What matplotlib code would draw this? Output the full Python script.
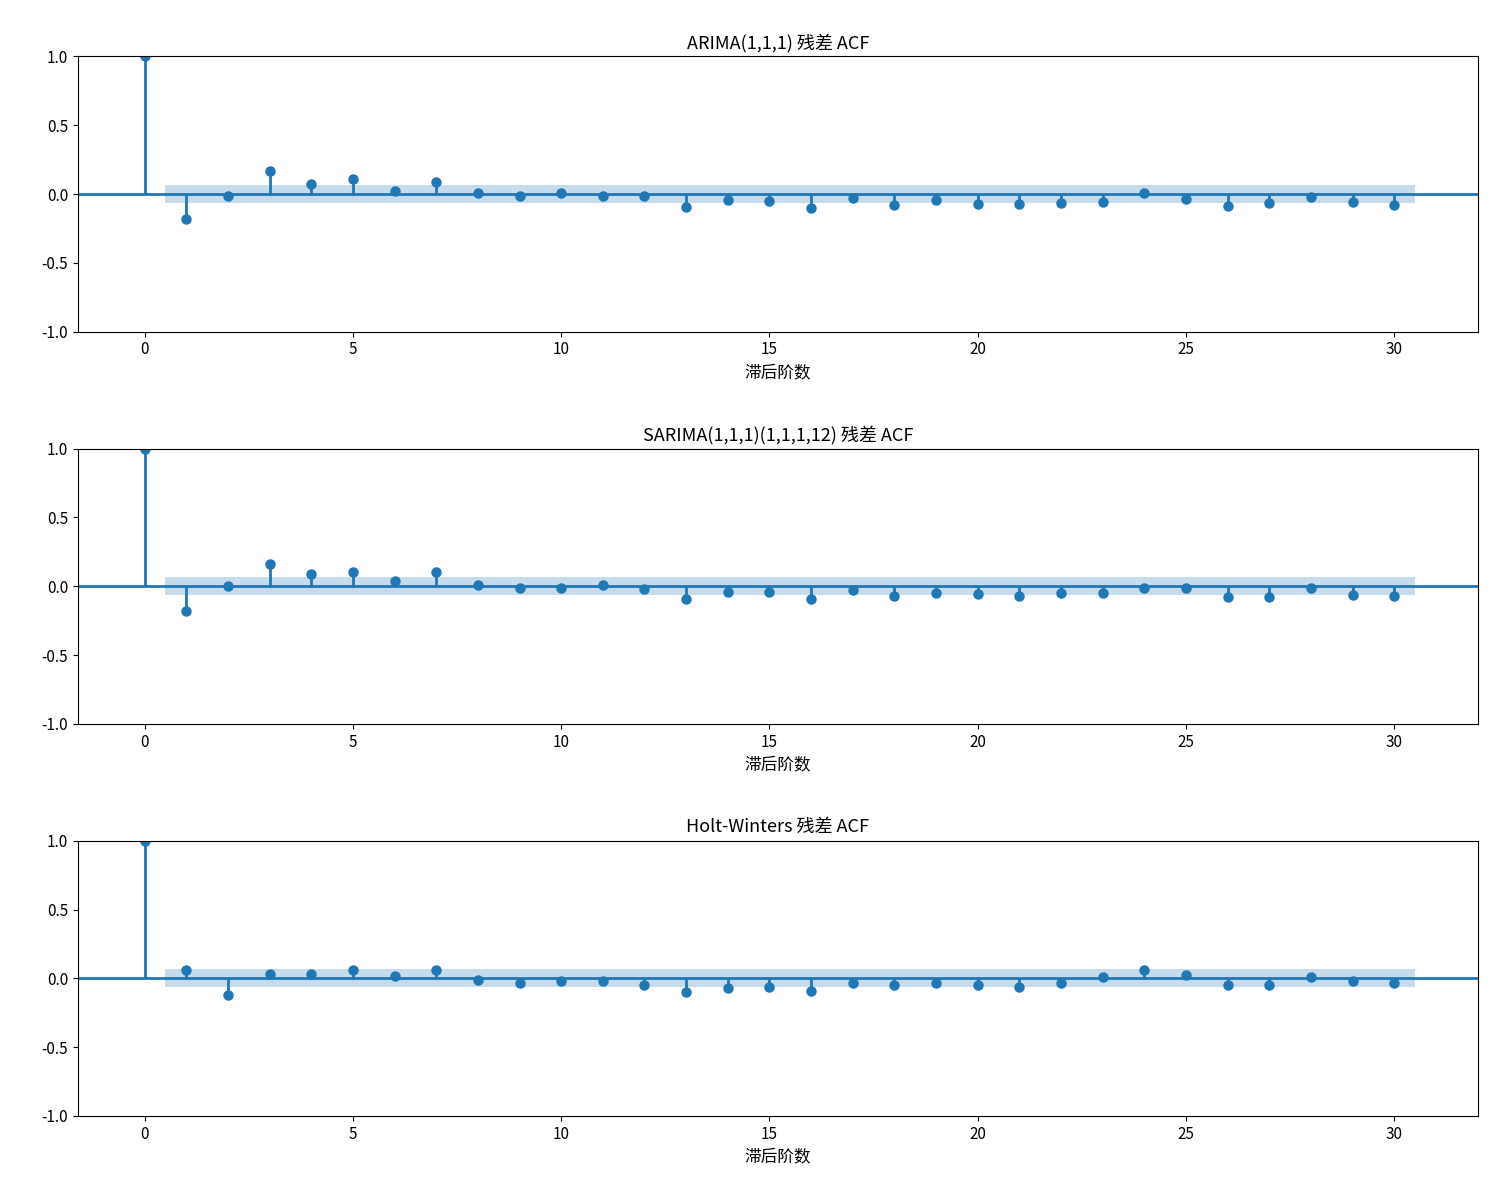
import numpy as np
import matplotlib
matplotlib.use('Agg')
import matplotlib.pyplot as plt

plt.rcParams['font.family'] = ['Noto Sans CJK SC', 'DejaVu Sans']
plt.rcParams['axes.unicode_minus'] = False

lags = np.arange(31)
acf_arima = [1.0, -0.18, -0.015, 0.17, 0.07, 0.11, 0.02, 0.09, 0.01, -0.015, 0.01,
             -0.015, -0.015, -0.095, -0.045, -0.05, -0.10, -0.03, -0.08, -0.045, -0.07,
             -0.07, -0.065, -0.06, 0.01, -0.035, -0.085, -0.065, -0.02, -0.06, -0.08]
acf_sarima = [1.0, -0.18, 0.0, 0.16, 0.09, 0.10, 0.04, 0.10, 0.01, -0.01, -0.01,
              0.01, -0.02, -0.09, -0.045, -0.045, -0.09, -0.03, -0.07, -0.05, -0.06,
              -0.07, -0.05, -0.05, -0.01, -0.015, -0.08, -0.08, -0.015, -0.065, -0.07]
acf_hw = [1.0, 0.06, -0.12, 0.03, 0.03, 0.06, 0.02, 0.06, -0.01, -0.035, -0.02,
          -0.02, -0.045, -0.10, -0.07, -0.065, -0.09, -0.03, -0.045, -0.03, -0.05,
          -0.06, -0.035, 0.01, 0.06, 0.025, -0.05, -0.045, 0.01, -0.02, -0.03]
conf = 0.065
titles = ['ARIMA(1,1,1) 残差 ACF', 'SARIMA(1,1,1)(1,1,1,12) 残差 ACF', 'Holt-Winters 残差 ACF']

fig, axes = plt.subplots(3, 1, figsize=(15, 12), dpi=100)
fig.subplots_adjust(left=0.052, right=0.985, top=0.953, bottom=0.07, hspace=0.425)
for ax, acf, title in zip(axes, [acf_arima, acf_sarima, acf_hw], titles):
    ax.vlines(lags, 0, acf, color='C0', linewidth=2)
    ax.plot(lags, acf, 'o', color='C0', markersize=6.5)
    ax.axhline(0, color='C0', linewidth=2)
    band_x = np.concatenate([[0.5], lags[1:], [30.5]])
    ax.fill_between(band_x, -conf, conf, color='C0', alpha=0.25, linewidth=0)
    ax.set_xlim(-1.6, 32)
    ax.set_ylim(-1, 1)
    ax.set_yticks([-1.0, -0.5, 0.0, 0.5, 1.0])
    ax.set_title(title, fontsize=13)
    ax.set_xlabel('滞后阶数', fontsize=12)
    ax.tick_params(labelsize=11)
fig.savefig('out.png')
